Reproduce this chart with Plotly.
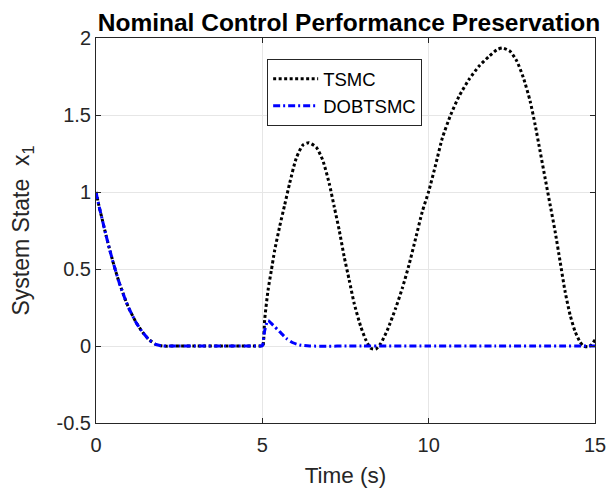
import plotly.graph_objects as go

# ---- data ----
t_tsmc = [0, 0.1, 0.2, 0.3, 0.4, 0.5, 0.6, 0.7, 0.8, 0.9, 1.0, 1.2, 1.4, 1.6, 1.8, 2.0, 2.5, 3.0, 4.0, 4.97, 5.0,
          5.02, 5.07, 5.17, 5.27, 5.37, 5.52, 5.67, 5.82, 6.02, 6.22, 6.40, 6.62, 6.81, 7.01, 7.16, 7.31,
          7.46, 7.61, 7.76, 7.96, 8.11, 8.26, 8.41, 8.56, 8.76, 9.01, 9.21, 9.41, 9.61, 9.81, 10.0, 10.21,
          10.41, 10.66, 10.91, 11.21, 11.51, 11.81, 12.05, 12.22, 12.45, 12.65, 12.85, 13.05, 13.2, 13.35,
          13.5, 13.65, 13.8, 13.95, 14.1, 14.25, 14.4, 14.55, 14.65, 14.8, 14.9, 15.0]
x_tsmc = [1.0, 0.90, 0.81, 0.72, 0.635, 0.555, 0.48, 0.41, 0.35, 0.29, 0.24, 0.155, 0.09, 0.04, 0.01, 0.0, 0.0, 0.0, 0.0, 0.0, 0.0,
          0.0, 0.17, 0.36, 0.49, 0.62, 0.775, 0.915, 1.056, 1.22, 1.305, 1.32, 1.29, 1.21, 1.056, 0.905, 0.753,
          0.58, 0.43, 0.277, 0.125, 0.04, -0.015, -0.02, 0.017, 0.104, 0.247, 0.377, 0.528, 0.70, 0.874, 1.004, 1.177,
          1.35, 1.50, 1.62, 1.73, 1.816, 1.88, 1.924, 1.935, 1.913, 1.85, 1.74, 1.59, 1.437, 1.264,
          1.09, 0.918, 0.745, 0.55, 0.355, 0.203, 0.095, 0.026, 0.0, -0.005, 0.01, 0.04]

t_dob = [0, 0.1, 0.2, 0.3, 0.4, 0.5, 0.6, 0.7, 0.8, 0.9, 1.0, 1.2, 1.4, 1.6, 1.8, 2.0, 2.5, 3.0, 4.0, 4.97, 5.0,
         5.07, 5.17, 5.32, 5.52, 5.72, 5.92, 6.12, 6.42, 8.0, 10.0, 12.0, 15.0]
x_dob = [1.0, 0.90, 0.81, 0.72, 0.635, 0.555, 0.48, 0.41, 0.35, 0.29, 0.24, 0.155, 0.09, 0.04, 0.01, 0.0, 0.0, 0.0, 0.0, 0.0, 0.0,
         0.10, 0.165, 0.136, 0.093, 0.05, 0.021, 0.007, 0.0, 0.0, 0.0, 0.0, 0.0]

x_ticks = [0, 5, 10, 15]
y_ticks = [-0.5, 0, 0.5, 1, 1.5, 2]
y_tick_labels = ["-0.5", "0", "0.5", "1", "1.5", "2"]

AX = "#262626"
FONT = "Liberation Sans, Arial, sans-serif"

fig = go.Figure()
fig.add_trace(go.Scatter(x=t_tsmc, y=x_tsmc, mode="lines", name="TSMC",
                         line=dict(color="black", width=3, dash="3px,2.5px", shape="spline", smoothing=0.6)))
fig.add_trace(go.Scatter(x=t_dob, y=x_dob, mode="lines", name="DOBTSMC",
                         line=dict(color="#0000ff", width=3, dash="7px,3px,2px,3px", shape="spline", smoothing=0.6)))

fig.update_layout(
    width=609, height=492,
    margin=dict(l=96, r=14, t=38, b=69),
    paper_bgcolor="white", plot_bgcolor="white",
    font=dict(family=FONT, color=AX, size=20),
    title=dict(text="<b>Nominal Control Performance Preservation</b>", x=0.573, xanchor="center",
               y=0.955, yanchor="middle", font=dict(size=24.5, color="black"), automargin=False),
    showlegend=True,
    legend=dict(x=0.343, y=0.945, xanchor="left", yanchor="top", itemwidth=45,
                bordercolor=AX, borderwidth=1, bgcolor="white",
                font=dict(size=18.5, color="black")),
)
fig.update_xaxes(range=[0, 15], tickvals=x_ticks, ticks="inside", ticklen=5, tickcolor=AX,
                 showline=True, linecolor=AX, linewidth=1, mirror="allticks", automargin=False,
                 showgrid=True, gridcolor="#e6e6e6", gridwidth=1, zeroline=False, ticklabelstandoff=4,
                 tickfont=dict(size=20), title=dict(text="Time (s)", font=dict(size=22.5), standoff=12))
fig.update_yaxes(range=[-0.5, 2], tickvals=y_ticks, ticktext=y_tick_labels, ticks="inside", ticklen=5,
                 tickcolor=AX, showline=True, linecolor=AX, linewidth=1, mirror="allticks", automargin=False,
                 showgrid=True, gridcolor="#e6e6e6", gridwidth=1, zeroline=False,
                 tickfont=dict(size=20),
                 title=dict(text="System State&nbsp;&nbsp;x<sub>1</sub>", font=dict(size=23), standoff=20))

fig.write_html("out.html")
